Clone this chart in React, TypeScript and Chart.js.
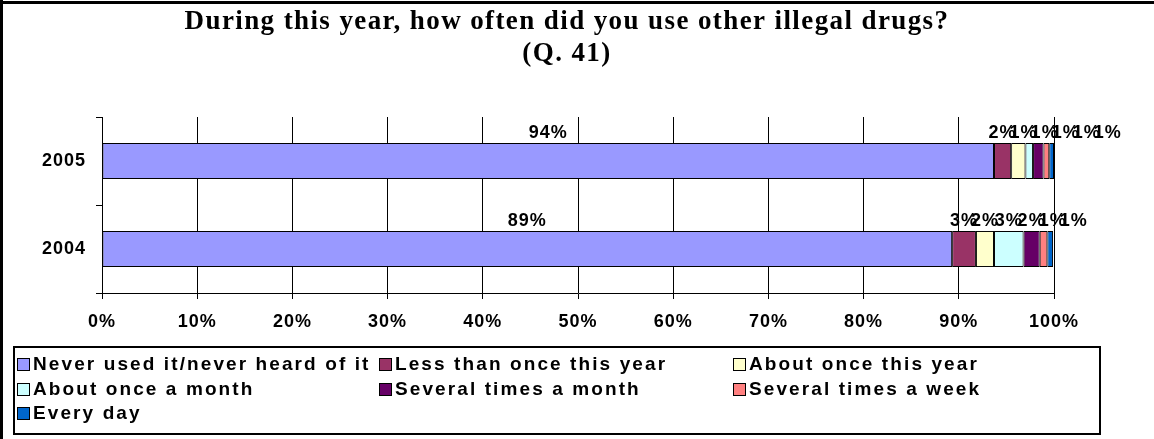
import React, { useEffect, useRef } from 'react';
import { Chart, registerables } from 'chart.js';

Chart.register(...registerables);

const titleLines = ['During this year, how often did you use other illegal drugs?', '(Q. 41)'];
const categories = ['2005', '2004'];
const seriesNames = [
  'Never used it/never heard of it',
  'Less than once this year',
  'About once this year',
  'About once a month',
  'Several times a month',
  'Several times a week',
  'Every day',
];
const seriesColors = ['#9999FF', '#993366', '#FFFFCC', '#CCFFFF', '#660066', '#FF8080', '#0066CC'];

const neverUsed = [93.7, 89.3];
const lessThanOnceYear = [1.8, 2.5];
const aboutOnceYear = [1.5, 1.9];
const aboutOnceMonth = [0.8, 3.1];
const severalTimesMonth = [1.1, 1.7];
const severalTimesWeek = [0.6, 0.8];
const everyDay = [0.5, 0.6];

const neverUsedLabels = ['94%', '89%'];
const lessThanOnceYearLabels = ['2%', '3%'];
const aboutOnceYearLabels = ['1%', '2%'];
const aboutOnceMonthLabels = ['1%', '3%'];
const severalTimesMonthLabels = ['1%', '2%'];
const severalTimesWeekLabels = ['1%', '1%'];
const everyDayLabels = ['1%', '1%'];

const seriesValues = [neverUsed, lessThanOnceYear, aboutOnceYear, aboutOnceMonth, severalTimesMonth, severalTimesWeek, everyDay];
const seriesLabels = [
  neverUsedLabels,
  lessThanOnceYearLabels,
  aboutOnceYearLabels,
  aboutOnceMonthLabels,
  severalTimesMonthLabels,
  severalTimesWeekLabels,
  everyDayLabels,
];

const SANS = "'Liberation Sans', Arial, sans-serif";
const SERIF = "'Liberation Serif', 'Times New Roman', serif";

const setSpacing = (ctx: any, v: string) => {
  try { ctx.letterSpacing = v; } catch (e) {}
};

const decorPlugin = {
  id: 'decor',
  beforeDraw(chart: any) {
    setSpacing(chart.ctx, '1px');
  },
  afterDatasetsDraw(chart: any) {
    const ctx = chart.ctx;
    ctx.save();
    ctx.font = `bold 18px ${SANS}`;
    setSpacing(ctx, '1px');
    ctx.fillStyle = '#000';
    ctx.textAlign = 'left';
    ctx.textBaseline = 'bottom';
    const n = chart.data.labels.length;
    for (let j = 0; j < n; j++) {
      let prevRight = -Infinity;
      chart.data.datasets.forEach((ds: any, i: number) => {
        const meta = chart.getDatasetMeta(i);
        const el: any = meta.data[j];
        if (!el) return;
        const txt = seriesLabels[i][j];
        const w = ctx.measureText(txt).width;
        const cx = (el.x + el.base) / 2;
        let left = cx - w / 2;
        if (left < prevRight - 7) left = prevRight - 7;
        ctx.fillText(txt, left, el.y - el.height / 2 - 1);
        prevRight = left + w;
      });
    }
    ctx.restore();
  },
  afterDraw(chart: any) {
    const ctx = chart.ctx;
    ctx.save();
    // outer frame (top and left)
    ctx.fillStyle = '#000';
    ctx.fillRect(0, 1, chart.width, 3);
    ctx.fillRect(0, 0, 3, chart.height);

    // title
    ctx.font = `bold 27px ${SERIF}`;
    setSpacing(ctx, '1.4px');
    ctx.textAlign = 'center';
    ctx.textBaseline = 'middle';
    const ca = chart.chartArea;
    const tx = (ca.left + ca.right) / 2 - 11;
    titleLines.forEach((line, k) => ctx.fillText(line, tx, 22 + k * 32));

    // legend
    ctx.lineWidth = 2;
    ctx.strokeStyle = '#000';
    ctx.strokeRect(14, 347, 1086, 87);
    ctx.font = `bold 19px ${SANS}`;
    setSpacing(ctx, '2.1px');
    ctx.textAlign = 'left';
    ctx.textBaseline = 'middle';
    const colX = [17, 379, 733];
    const rowY = [364, 389, 413];
    chart.data.datasets.forEach((ds: any, i: number) => {
      const x = colX[i % 3];
      const y = rowY[Math.floor(i / 3)];
      ctx.fillStyle = ds.backgroundColor;
      ctx.fillRect(x, y - 6, 12, 12);
      ctx.lineWidth = 1;
      ctx.strokeStyle = '#000';
      ctx.strokeRect(x + 0.5, y - 5.5, 12, 12);
      ctx.fillStyle = '#000';
      ctx.fillText(ds.label, x + 16, y + 1);
    });
    ctx.restore();
  },
};

export default function App() {
  const ref = useRef<HTMLCanvasElement>(null);
  useEffect(() => {
    if (!ref.current) return;
    const chart = new Chart(ref.current, {
      type: 'bar',
      data: {
        labels: categories,
        datasets: seriesNames.map((name, i) => ({
          label: name,
          data: seriesValues[i],
          backgroundColor: seriesColors[i],
          borderColor: '#000',
          borderWidth: 1,
          borderSkipped: false,
          categoryPercentage: 1,
          barPercentage: 0.41,
        })),
      },
      options: {
        indexAxis: 'y',
        animation: false,
        responsive: false,
        devicePixelRatio: 1,
        layout: { padding: { top: 117, right: 100, bottom: 106, left: 0 } },
        plugins: {
          legend: { display: false },
          title: { display: false },
          tooltip: { enabled: false },
        },
        scales: {
          x: {
            stacked: true,
            min: 0,
            max: 100,
            ticks: {
              stepSize: 10,
              color: '#000',
              padding: 12,
              maxRotation: 0,
              font: { family: SANS, size: 18, weight: 'bold' },
              callback: (v: any) => v + '%',
            },
            grid: { color: '#000', lineWidth: 1, tickLength: 6, drawTicks: true },
            border: { display: true, color: '#000', width: 1 },
            afterFit: (s: any) => { s.height = 40; },
          },
          y: {
            stacked: true,
            ticks: {
              color: '#000',
              padding: 10,
              font: { family: SANS, size: 18, weight: 'bold' },
            },
            grid: { offset: true, drawOnChartArea: false, drawTicks: true, tickLength: 6, color: '#000' },
            border: { display: true, color: '#000', width: 1 },
            afterFit: (s: any) => { s.width = 102; },
          },
        },
      },
      plugins: [decorPlugin],
    } as any);
    return () => chart.destroy();
  }, []);
  return (
    <div style={{ position: 'fixed', left: 0, top: 0, width: 1154, height: 439, background: '#fff' }}>
      <canvas ref={ref} width={1154} height={439} style={{ width: 1154, height: 439, display: 'block' }} />
    </div>
  );
}
